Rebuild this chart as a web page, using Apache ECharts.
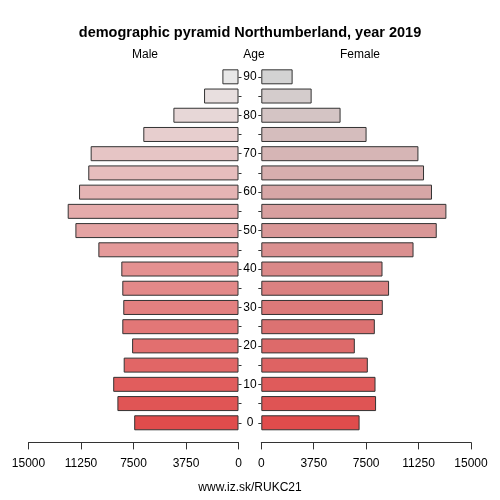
<!DOCTYPE html>
<html>
<head>
<meta charset="utf-8">
<script src="https://cdn.jsdelivr.net/npm/echarts@6/dist/echarts.min.js"></script>
<style>
  html, body { margin: 0; padding: 0; background: #fff; }
  #chart { width: 500px; height: 500px; }
</style>
</head>
<body>
<div id="chart"></div>
<script>
/* age groups, bottom to top */
let ageGroups = ["0", "5", "10", "15", "20", "25", "30", "35", "40", "45",
  "50", "55", "60", "65", "70", "75", "80", "85", "90"];

let maleValues = [7450, 8650, 8950, 8200, 7600, 8300, 8230, 8300, 8370, 10010,
  11650, 12200, 11390, 10730, 10560, 6800, 4650, 2460, 1150];

let femaleValues = [7030, 8210, 8170, 7620, 6690, 8120, 8690, 9140, 8670, 10890,
  12550, 13240, 12210, 11640, 11240, 7530, 5670, 3600, 2240];

let valueTicks = [0, 3750, 7500, 11250, 15000];

/* colour ramp: red at age 0 towards grey at age 90 */
function ramp(from, to) {
  return function (p) {
    let t = p.dataIndex / (ageGroups.length - 1);
    let c = from.map(function (v, i) { return Math.round(v + (to[i] - v) * t); });
    return "rgb(" + c.join(",") + ")";
  };
}

let FONT = "Liberation Sans, Arial, Helvetica, sans-serif";

let chart = echarts.init(document.getElementById("chart"), null, { renderer: "canvas" });

let valueAxisBase = {
  type: "value",
  min: valueTicks[0],
  max: valueTicks[valueTicks.length - 1],
  interval: valueTicks[1] - valueTicks[0],
  offset: 10,
  axisLine: { show: true, lineStyle: { color: "#333", width: 1 } },
  axisTick: { show: true, length: 7, lineStyle: { color: "#333" } },
  axisLabel: { color: "#000", fontSize: 12, fontFamily: FONT, margin: 15,
    formatter: function (v) { return String(v); } },
  splitLine: { show: false },
};

chart.setOption({
  animation: false,
  textStyle: { fontFamily: FONT },
  title: [
    { text: "demographic pyramid Northumberland, year 2019", left: "center", top: 20,
      textStyle: { fontSize: 14.5, fontWeight: "bold", color: "#000", fontFamily: FONT } },
    { text: "Male", left: 140, top: 44, textAlign: "center",
      textStyle: { fontSize: 12, fontWeight: "normal", color: "#000", fontFamily: FONT } },
    { text: "Age", left: 249, top: 44, textAlign: "center",
      textStyle: { fontSize: 12, fontWeight: "normal", color: "#000", fontFamily: FONT } },
    { text: "Female", left: 355, top: 44, textAlign: "center",
      textStyle: { fontSize: 12, fontWeight: "normal", color: "#000", fontFamily: FONT } },
    { text: "www.iz.sk/RUKC21", left: "center", top: 477,
      textStyle: { fontSize: 12, fontWeight: "normal", color: "#000", fontFamily: FONT } },
  ],
  grid: [
    { left: 28.5, right: 261.5, top: 67.2, bottom: 67.6 },
    { left: 261.3, right: 29, top: 67.2, bottom: 67.6 },
  ],
  xAxis: [
    Object.assign({}, valueAxisBase, { gridIndex: 0, inverse: true }),
    Object.assign({}, valueAxisBase, { gridIndex: 1 }),
  ],
  yAxis: [
    {
      type: "category", gridIndex: 0, position: "right", data: ageGroups,
      axisLine: { show: false },
      axisTick: { show: true, length: 3, alignWithLabel: true, interval: 0, lineStyle: { color: "#333" } },
      axisLabel: { show: true, interval: 1, align: "center", margin: 11.5,
        color: "#000", fontSize: 12, fontFamily: FONT },
    },
    {
      type: "category", gridIndex: 1, position: "left", data: ageGroups,
      axisLine: { show: false },
      axisTick: { show: true, length: 3, alignWithLabel: true, interval: 0, lineStyle: { color: "#333" } },
      axisLabel: { show: false },
    },
  ],
  series: [
    {
      name: "Male", type: "bar", xAxisIndex: 0, yAxisIndex: 0, data: maleValues,
      barCategoryGap: "22%",
      itemStyle: { color: ramp([224, 76, 76], [232, 232, 232]), borderColor: "#333", borderWidth: 1 },
    },
    {
      name: "Female", type: "bar", xAxisIndex: 1, yAxisIndex: 1, data: femaleValues,
      barCategoryGap: "22%",
      itemStyle: { color: ramp([224, 76, 76], [211, 211, 211]), borderColor: "#333", borderWidth: 1 },
    },
  ],
});
</script>
</body>
</html>
